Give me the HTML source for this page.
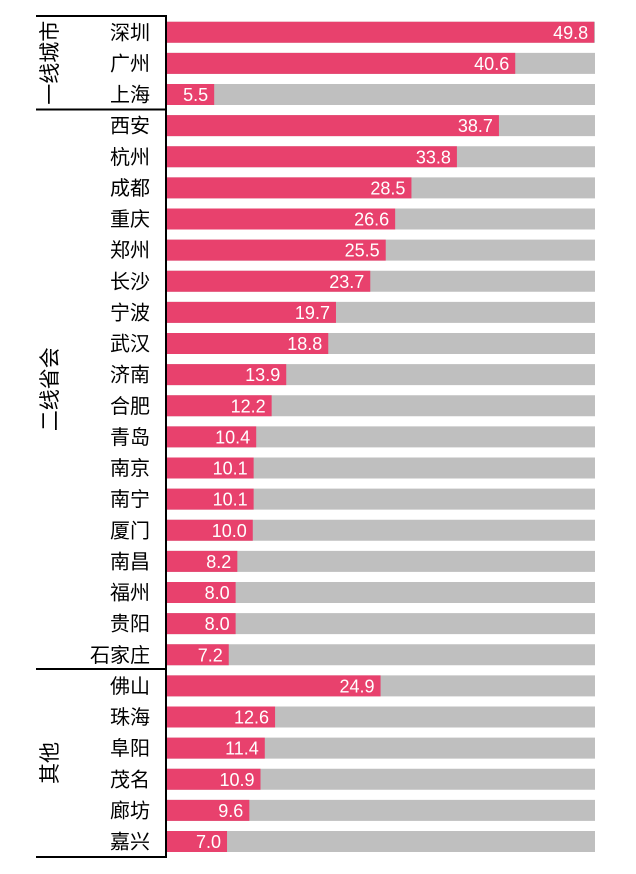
<!DOCTYPE html>
<html><head><meta charset="utf-8"><style>
body{margin:0;background:#fff;width:636px;height:874px;overflow:hidden}
svg{display:block;font-family:"Liberation Sans","Noto Sans CJK SC",sans-serif}
</style></head><body>
<svg id="c" width="636" height="874"></svg>
<script>
const cities=["深圳","广州","上海","西安","杭州","成都","重庆","郑州","长沙","宁波","武汉","济南","合肥","青岛","南京","南宁","厦门","南昌","福州","贵阳","石家庄","佛山","珠海","阜阳","茂名","廊坊","嘉兴"];
const values=[49.8,40.6,5.5,38.7,33.8,28.5,26.6,25.5,23.7,19.7,18.8,13.9,12.2,10.4,10.1,10.1,10.0,8.2,8.0,8.0,7.2,24.9,12.6,11.4,10.9,9.6,7.0];
const groups=["一线城市","二线省会","其他"];
const groupStart=[0,3,21];
const groupEnd=[3,21,27];
const NS="http://www.w3.org/2000/svg";
const svg=document.getElementById('c');
const x0=167,xMax=49.9,plotW=428,y0=32.25,pitch=31.125,bh=21;
const xs=v=>x0+v/xMax*plotW;
const yc=i=>y0+i*pitch;
function mk(t,a){const e=document.createElementNS(NS,t);for(const k in a)e.setAttribute(k,a[k]);svg.appendChild(e);return e;}
cities.forEach((c,i)=>{
  const bg=mk('rect',{x:x0,y:yc(i)-bh/2,width:plotW,height:bh,fill:'#bfbfbf'});
  
  
  const b=mk('rect',{x:x0,y:yc(i)-bh/2,width:xs(values[i])-x0,height:bh,fill:'#e8416d'});
  
  
  const t=mk('text',{x:xs(values[i])-6,y:yc(i)+6.5,'text-anchor':'end','font-size':18,fill:'#fff'});
  t.textContent=values[i].toFixed(1);
  
  
  const l=mk('text',{x:150,y:yc(i)+7,'text-anchor':'end','font-size':20,fill:'#000'});
  l.textContent=c;
  
  
});
const ax=mk('line',{x1:166,y1:16,x2:166,y2:857,stroke:'#000','stroke-width':2});


const sepY=[16,109.5,669,857];
sepY.forEach(y=>{
  const ln=mk('line',{x1:36,y1:y,x2:167,y2:y,stroke:'#000','stroke-width':2});
  
  
});
groups.forEach((g,k)=>{
  const cy=(sepY[k]+sepY[k+1])/2;
  const t=mk('text',{x:0,y:0,'text-anchor':'middle','font-size':21,fill:'#000',transform:`translate(${57},${cy}) rotate(-90)`});
  t.textContent=g;
  
  
});
</script>
</body></html>
